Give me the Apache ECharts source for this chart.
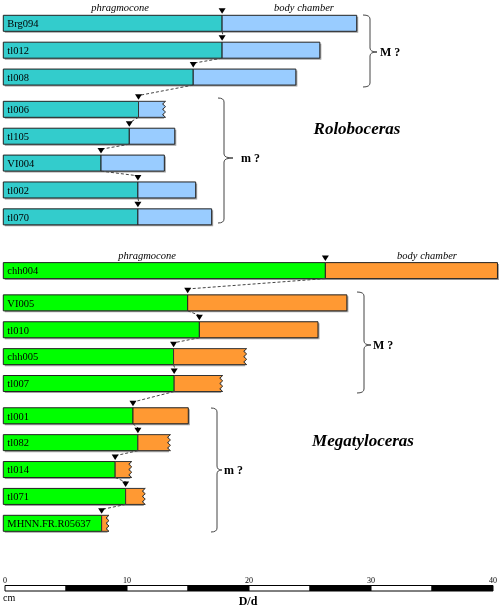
<!DOCTYPE html>
<html>
<head>
<meta charset="utf-8">
<title>Roloboceras / Megatyloceras – D/d</title>
<script src="https://cdn.jsdelivr.net/npm/echarts@6/dist/echarts.min.js"></script>
<style>
  html, body { margin: 0; padding: 0; background: #fff; }
  #chart { width: 500px; height: 608px; }
</style>
</head>
<body>
<div id="chart"></div>
<script>
// Roloboceras: phragmocone end and total length (D/d)
const rolobocerasNames = ['Brg094', 'tl012', 'tl008', 'tl006', 'tl105', 'VI004', 'tl002', 'tl070'];
const rolobocerasPhragmocone = [17.8, 17.8, 15.45, 11.0, 10.25, 7.95, 10.95, 10.95];
const rolobocerasTotal = [28.75, 25.75, 23.8, 13.2, 13.95, 13.1, 15.65, 16.95];
const rolobocerasBroken = [false, false, false, true, false, false, false, false];
const rolobocerasClusters = [3, 5]; // M ? / m ?

// Megatyloceras
const megatylocerasNames = ['chh004', 'VI005', 'tl010', 'chh005', 'tl007', 'tl001', 'tl082', 'tl014', 'tl071', 'MHNN.FR.R05637'];
const megatylocerasPhragmocone = [26.2, 15.0, 15.95, 13.85, 13.9, 10.55, 10.95, 9.1, 9.95, 8.0];
const megatylocerasTotal = [40.2, 27.95, 25.6, 19.8, 17.85, 15.05, 13.6, 10.45, 11.55, 8.6];
const megatylocerasBroken = [false, false, false, true, true, false, true, true, true, true];
const megatylocerasClusters = [1, 4, 5]; // megaconch / M ? / m ?

// scale bar
const scaleTicks = [0, 10, 20, 30, 40];
const scaleSegments = [0, 5, 10, 15, 20, 25, 30, 35, 40];

const species = [
  {
    names: rolobocerasNames, phrag: rolobocerasPhragmocone, total: rolobocerasTotal,
    broken: rolobocerasBroken, clusters: rolobocerasClusters, colors: ['#33cccc', '#99ccff'],
  },
  {
    names: megatylocerasNames, phrag: megatylocerasPhragmocone, total: megatylocerasTotal,
    broken: megatylocerasBroken, clusters: megatylocerasClusters, colors: ['#00ff00', '#ff9933'],
  },
];

// one row per specimen: [phragmocone, total, row position, species, broken, index]
const rows = [];
let pos = 0;
species.forEach((sp, s) => {
  if (s > 0) pos += 0.8;
  let k = 0;
  sp.clusters.forEach((n) => {
    for (let j = 0; j < n; j++, k++) {
      rows.push([sp.phrag[k], sp.total[k], pos, s, sp.broken[k] ? 1 : 0, k]);
      pos += 1;
    }
    pos += 0.2;
  });
});
const lastRow = rows[rows.length - 1][2];

const segments = [];
for (let i = 0; i < scaleSegments.length - 1; i++) {
  segments.push([scaleSegments[i], scaleSegments[i + 1], i % 2]);
}

const SERIF = '"Liberation Serif", "DejaVu Serif", serif';
const BAR_H = 16;

const renderBar = (params, api) => {
  const i = params.dataIndex;
  const s = api.value(3);
  const sp = species[s];
  const y = api.value(2);
  const p0 = api.coord([0, y]);
  const p1 = api.coord([api.value(0), y]);
  const p2 = api.coord([api.value(1), y]);
  const top = p0[1] - BAR_H / 2;
  const bottom = p0[1] + BAR_H / 2;
  const broken = api.value(4) === 1;
  const children = [];

  children.push({
    type: 'rect',
    shape: { x: p0[0] + 1.5, y: top + 1.5, width: p2[0] - p0[0] - (broken ? 3 : 0), height: BAR_H },
    style: { fill: '#a0a0a0' },
  });
  children.push({
    type: 'rect',
    shape: { x: p0[0], y: top, width: p1[0] - p0[0], height: BAR_H },
    style: { fill: sp.colors[0], stroke: '#222', lineWidth: 1 },
  });
  if (broken) {
    const pts = [[p1[0], top], [p2[0], top]];
    const teeth = 6;
    for (let t = 1; t <= teeth; t++) {
      pts.push([t % 2 ? p2[0] - 3 : p2[0], top + (t * BAR_H) / teeth]);
    }
    pts.push([p1[0], bottom]);
    children.push({
      type: 'polygon',
      shape: { points: pts },
      style: { fill: sp.colors[1], stroke: '#333', lineWidth: 1 },
    });
  } else {
    children.push({
      type: 'rect',
      shape: { x: p1[0], y: top, width: p2[0] - p1[0], height: BAR_H },
      style: { fill: sp.colors[1], stroke: '#222', lineWidth: 1 },
    });
  }

  // last septum marker
  children.push({
    type: 'polygon',
    shape: { points: [[p1[0] - 3.5, top - 7], [p1[0] + 3.5, top - 7], [p1[0], top - 1.5]] },
    style: { fill: '#000' },
  });

  // dashed link to next specimen of the same genus
  const next = rows[i + 1];
  if (next && next[3] === s) {
    const q = api.coord([next[0], next[2]]);
    children.push({
      type: 'line',
      shape: { x1: p1[0], y1: bottom, x2: q[0] + 1, y2: q[1] - BAR_H / 2 - 6 },
      style: { stroke: '#444', lineWidth: 1, lineDash: [3, 2] },
    });
  }

  children.push({
    type: 'text',
    style: {
      text: sp.names[api.value(5)],
      x: p0[0] + 4,
      y: p0[1] + 1,
      verticalAlign: 'middle',
      font: '10.5px ' + SERIF,
      fill: '#000',
    },
  });
  return { type: 'group', children };
};

const renderScale = (params, api) => {
  const a = api.coord([api.value(0), 0]);
  const b = api.coord([api.value(1), 1]);
  return {
    type: 'rect',
    shape: { x: a[0], y: b[1], width: b[0] - a[0], height: a[1] - b[1] },
    style: { fill: api.value(2) ? '#000' : '#fff', stroke: '#000', lineWidth: 1 },
  };
};

// curly brace "}" made of quadratic curves and straight lines
const brace = (x, xm, xt, y1, y2, ym) => {
  const r = 4;
  const st = { stroke: '#444', lineWidth: 1, fill: null };
  const curve = (a, b, c, d, cx, cy) => ({
    type: 'bezierCurve', shape: { x1: a, y1: b, x2: c, y2: d, cpx1: cx, cpy1: cy }, style: st,
  });
  const seg = (a, b, c, d) => ({ type: 'line', shape: { x1: a, y1: b, x2: c, y2: d }, style: st });
  return {
    type: 'group',
    children: [
      curve(x, y1, xm, y1 + r, xm, y1),
      seg(xm, y1 + r, xm, ym - r),
      curve(xm, ym - r, xt, ym, xm, ym),
      curve(xt, ym, xm, ym + r, xm, ym),
      seg(xm, ym + r, xm, y2 - r),
      curve(xm, y2 - r, x, y2, xm, y2),
    ],
  };
};

const label = (text, x, y, font, align) => ({
  type: 'text',
  style: { text, x, y, font: font + ' ' + SERIF, fill: '#000', align: align || 'left', verticalAlign: 'middle' },
});

const chart = echarts.init(document.getElementById('chart'));
chart.setOption({
  animation: false,
  grid: [
    { left: 3.3, right: 5, top: 23.3, height: 500 },
    { left: 3.3, right: 5, top: 585.5, height: 5.5 },
  ],
  xAxis: [
    { gridIndex: 0, type: 'value', min: 0, max: 40, show: false },
    {
      gridIndex: 1, type: 'value', min: scaleTicks[0], max: scaleTicks[scaleTicks.length - 1],
      interval: scaleTicks[1] - scaleTicks[0], position: 'top',
      axisLine: { show: false }, axisTick: { show: false }, splitLine: { show: false },
      axisLabel: { fontSize: 8, margin: 1, color: '#000', fontFamily: SERIF },
    },
  ],
  yAxis: [
    { gridIndex: 0, type: 'value', min: 0, max: lastRow, inverse: true, show: false },
    { gridIndex: 1, type: 'value', min: 0, max: 1, show: false },
  ],
  series: [
    {
      type: 'custom', xAxisIndex: 0, yAxisIndex: 0, data: rows, renderItem: renderBar, clip: false,
    },
    {
      type: 'custom', xAxisIndex: 1, yAxisIndex: 1, data: segments, renderItem: renderScale, clip: false,
    },
  ],
  graphic: [
    label('phragmocone', 120, 8, 'italic 10.5px', 'center'),
    label('body chamber', 304, 8, 'italic 10.5px', 'center'),
    label('phragmocone', 147, 256, 'italic 10.5px', 'center'),
    label('body chamber', 427, 256, 'italic 10.5px', 'center'),
    label('« Megaconch »', 205, 270, '11px', 'center'),
    brace(363, 370, 377, 15, 87, 52),
    brace(218, 224, 233, 98, 223, 158),
    brace(357, 364, 371, 292, 393, 345),
    brace(211, 217, 222, 408, 532, 470),
    label('M ?', 380, 53, 'bold 12px'),
    label('m ?', 241, 159, 'bold 12px'),
    label('M ?', 373, 346, 'bold 12px'),
    label('m ?', 224, 471, 'bold 12px'),
    label('Roloboceras', 357, 130, 'italic bold 17px', 'center'),
    label('Megatyloceras', 363, 442, 'italic bold 17px', 'center'),
    label('cm', 3, 598, '10px'),
    label('D/d', 248, 602, 'bold 12px', 'center'),
  ],
});
window.addEventListener('resize', () => chart.resize());
</script>
</body>
</html>
